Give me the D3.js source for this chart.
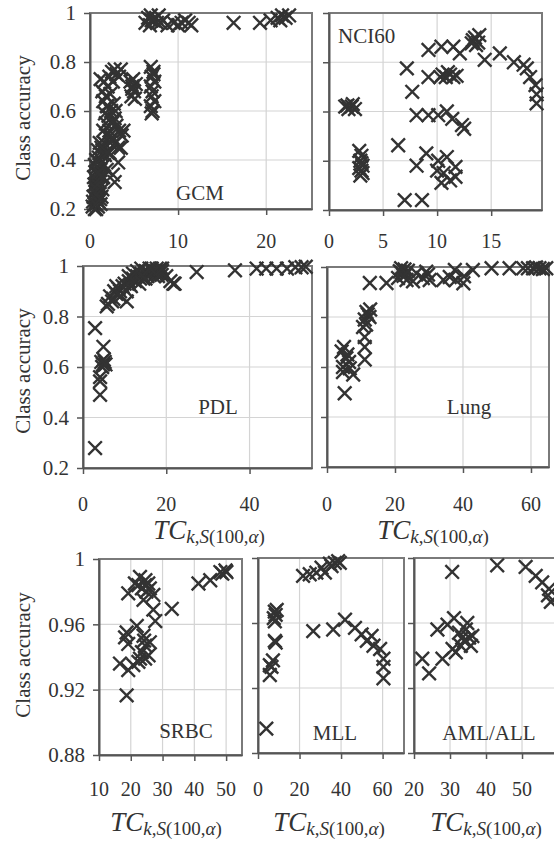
<!DOCTYPE html>
<html><head><meta charset="utf-8">
<script src="https://cdn.jsdelivr.net/npm/d3@7"></script>
<style>body{margin:0;background:#fff}svg{display:block}</style>
</head><body>
<svg id="c" width="554" height="844"></svg>
<script>
// ---------- data ----------
const gcmX = [0.3,0.5,0.7,0.9,1.2,0.4,0.6,0.8,1.0,1.3,0.5,0.7,0.9,1.1,1.4,0.6,0.8,1.0,1.2,1.5,0.7,1.0,1.3,1.6,1.9,2.2,
  0.35,0.55,0.75,0.95,1.15,0.45,0.65,0.85,1.05,1.25,0.55,0.75,0.95,1.15,1.35,0.9,1.1,1.4,1.7,
  2.8,3.2,3.5,3.8,2.6,2.9,
  1.3,1.6,1.9,2.2,2.5,2.8,1.5,1.8,2.1,2.4,2.7,3.0,3.3,3.6,3.2,2.3,2.0,1.7,2.0,2.3,2.6,2.9,
  1.2,1.4,1.6,1.5,1.8,2.0,2.2,2.5,2.8,3.0,3.3,2.3,1.9,2.6,3.5,2.7,
  4.6,4.8,5.0,4.7,5.2,4.9,5.1,4.8,
  6.9,7.2,7.0,7.3,6.9,7.1,7.0,7.3,6.9,7.1,7.0,7.2,
  6.3,6.6,6.9,7.2,7.5,7.8,8.0,7.0,6.8,7.6,8.3,8.8,9.5,10.0,10.4,10.8,11.2,11.5,16.3,19.3,20.5,21.3,21.8,22.2,22.6,21.6];
const gcmY = [0.21,0.22,0.2,0.21,0.22,0.25,0.27,0.24,0.26,0.25,0.3,0.32,0.29,0.31,0.28,0.35,0.37,0.34,0.36,0.33,0.4,0.41,0.39,0.38,0.36,0.43,
  0.23,0.2,0.28,0.23,0.29,0.33,0.22,0.3,0.38,0.33,0.38,0.26,0.35,0.24,0.42,0.44,0.47,0.44,0.42,
  0.31,0.39,0.45,0.52,0.34,0.47,
  0.45,0.47,0.5,0.52,0.55,0.57,0.52,0.55,0.58,0.6,0.56,0.54,0.52,0.5,0.45,0.47,0.43,0.59,0.62,0.5,0.49,0.6,
  0.73,0.68,0.72,0.64,0.66,0.7,0.74,0.76,0.77,0.75,0.74,0.67,0.62,0.72,0.77,0.63,
  0.72,0.7,0.68,0.66,0.71,0.73,0.65,0.69,
  0.78,0.76,0.74,0.72,0.7,0.68,0.66,0.64,0.62,0.6,0.59,0.75,
  0.96,0.98,0.99,0.97,0.98,0.99,0.96,0.97,0.95,0.96,0.97,0.95,0.96,0.95,0.96,0.97,0.96,0.95,0.96,0.96,0.97,0.98,0.99,0.98,0.99,0.97];

const nciX = [13.5,13.8,13.3,13.9,13.6,13.2,12.1,9.2,10.4,11.5,14.4,15.8,17.1,18.0,18.3,18.6,19.1,19.2,19.2,
  7.2,7.7,9.2,10.3,10.5,10.8,11.2,11.5,11.8,11.0,
  8.1,9.2,10.1,10.9,11.4,12.3,12.5,
  1.5,1.8,2.1,2.4,1.7,2.2,
  2.8,3.0,2.9,3.1,2.8,3.0,3.1,2.9,3.0,
  6.4,8.1,9.0,10.1,10.9,10.0,10.4,11.2,11.7,11.7,10.6,7.0,8.6];
const nciY = [0.9,0.88,0.89,0.91,0.87,0.877,0.836,0.85,0.863,0.863,0.81,0.836,0.8,0.79,0.775,0.74,0.707,0.67,0.633,
  0.775,0.68,0.74,0.74,0.75,0.74,0.75,0.74,0.745,0.76,
  0.585,0.585,0.585,0.6,0.57,0.545,0.53,
  0.62,0.61,0.62,0.61,0.625,0.63,
  0.44,0.42,0.4,0.38,0.37,0.36,0.35,0.34,0.39,
  0.463,0.38,0.43,0.4,0.415,0.36,0.31,0.32,0.375,0.335,0.35,0.24,0.24];

const pdlX = [2.9,2.9,4.9,4.4,4.8,5.2,4.6,5.0,5.4,4.1,4.1,4.1,
  5.7,7.3,10.5,8.9,11.3,13.7,15.3,17.7,18.9,21.7,
  6,6.5,7,7.5,8,8.5,9,9.5,10,10.5,11,11.5,12,12.5,13,13.5,14,14.5,15,15.5,16,16.5,17,17.5,18,18.5,19,20,21,22,8,12,14,
  11,13,15,16,17,18,19,
  27.3,36.5,41.7,44,46.5,49,51,52.5,53.5];
const pdlY = [0.279,0.754,0.68,0.62,0.61,0.62,0.6,0.63,0.61,0.543,0.49,0.56,
  0.84,0.87,0.86,0.9,0.925,0.95,0.978,0.99,0.965,0.93,
  0.85,0.88,0.86,0.9,0.89,0.91,0.88,0.92,0.93,0.9,0.94,0.92,0.95,0.94,0.96,0.93,0.97,0.95,0.98,0.96,0.97,0.99,0.96,0.98,0.97,0.99,0.98,0.96,0.94,0.93,0.92,0.97,0.99,
  0.96,0.98,0.95,0.99,0.98,0.96,0.99,
  0.976,0.983,0.99,0.99,0.99,0.99,0.995,0.995,0.997];

const lungX = [5.2,4.3,5.7,6.7,7.7,4.7,5.0,6.0,6.5,4.7,
  11.1,11.1,11.1,10.6,11.6,12.5,11.1,12.7,12.0,11.5,
  12.6,17.5,21.4,22.8,20.9,23.2,22.0,25.3,28.2,29.7,21.8,23.8,22.5,
  23.4,26.3,30.2,29.2,34.2,36.1,37.6,37.9,40.1,40.3,42.9,48.4,53.7,57.7,60.6,62.5,64.5,59.1,61.5,63.5];
const lungY = [0.495,0.662,0.635,0.595,0.57,0.6,0.68,0.65,0.62,0.58,
  0.63,0.68,0.72,0.76,0.82,0.8,0.79,0.83,0.81,0.77,
  0.936,0.936,0.983,0.99,0.956,0.97,0.977,0.943,0.956,0.97,0.995,0.985,0.965,
  0.948,0.975,0.948,0.981,0.948,0.96,0.988,0.948,0.935,0.963,0.988,0.995,0.995,0.995,0.995,0.995,0.995,0.995,0.998,0.992];

const srbcX = [18.7,16.6,20.8,19.2,18.2,18.7,21.9,19.2,
  24.0,24.2,24.5,23.5,25.6,24.5,26.0,22.9,22.4,
  22.9,19.2,22.4,24.5,26.0,27.1,24.0,27.1,27.7,24.9,21.3,24.6,23.5,25.5,
  32.9,41.3,45.0,48.2,49.8,50.1,48.8];
const srbcY = [0.9165,0.936,0.935,0.932,0.952,0.955,0.959,0.948,
  0.953,0.95,0.947,0.943,0.941,0.939,0.949,0.939,0.937,
  0.989,0.979,0.984,0.984,0.982,0.978,0.975,0.969,0.962,0.98,0.985,0.987,0.982,0.985,
  0.9695,0.985,0.987,0.992,0.993,0.992,0.991];

const mllX = [4.0,5.7,6.5,7.2,5.7,8.1,8.5,8.1,8.5,7.6,8.1,9.0,
  26.6,36.2,41.9,46.7,49.9,52.4,54.7,55.6,58.8,60.4,60.4,60.4,
  21.7,24.9,28.1,30.6,32.2,34.6,37.0,39.4,35.4,38.6];
const mllY = [0.895,0.928,0.933,0.937,0.934,0.949,0.948,0.967,0.965,0.963,0.961,0.968,
  0.955,0.956,0.962,0.957,0.953,0.949,0.952,0.946,0.944,0.938,0.933,0.926,
  0.989,0.99,0.991,0.994,0.991,0.9965,0.997,0.997,0.995,0.998];

const amlX = [30.6,43.1,51.0,53.8,55.6,57.5,58.0,57.2,
  22.3,24.2,27.9,26.5,29.3,31.1,
  32.5,34.4,35.3,33.9,33.0,31.6,35.8,34.8,36.2,30.7,33.4];
const amlY = [0.9914,0.9955,0.9945,0.989,0.985,0.981,0.973,0.977,
  0.938,0.929,0.938,0.956,0.959,0.963,
  0.954,0.956,0.951,0.949,0.946,0.942,0.946,0.96,0.952,0.944,0.951];

const yTicksTop = [0.2,0.4,0.6,0.8,1];
const yTicksBot = [0.88,0.92,0.96,1];
const panelNames = ["GCM","NCI60","PDL","Lung","SRBC","MLL","AML/ALL"];

// ---------- layout ----------
const svg = d3.select("#c");
const FONT = "'Liberation Serif','Times New Roman',serif";
const panels = [
  {name:panelNames[0], xs:gcmX, ys:gcmY, l:90, r:312, t:13, b:209, xd:[0,25.2], yd:[0.2,1], xt:[0,10,20], yt:yTicksTop, ylab:true, tickY:248, lab:{x:200,y:200,a:"middle"}},
  {name:panelNames[1], xs:nciX, ys:nciY, l:329, r:542, t:13, b:210, xd:[0,19.7], yd:[0.2,1], xt:[0,5,10,15], yt:yTicksTop, ylab:false, tickY:248, lab:{x:338,y:43,a:"start"}},
  {name:panelNames[2], xs:pdlX, ys:pdlY, l:83, r:312, t:266, b:468, xd:[0,55], yd:[0.2,1], xt:[0,20,40], yt:yTicksTop, ylab:true, tickY:511, lab:{x:218,y:414,a:"middle"}, title:{x:209,y:539}},
  {name:panelNames[3], xs:lungX, ys:lungY, l:327, r:549, t:267, b:467, xd:[0,65.3], yd:[0.2,1], xt:[0,20,40,60], yt:yTicksTop, ylab:false, tickY:511, lab:{x:469,y:414,a:"middle"}, title:{x:433,y:539}},
  {name:panelNames[4], xs:srbcX, ys:srbcY, l:99, r:242, t:559, b:755, xd:[10,55], yd:[0.88,1], xt:[10,20,30,40,50], yt:yTicksBot, ylab:true, tickY:796, lab:{x:186,y:738,a:"middle"}, title:{x:166,y:831}},
  {name:panelNames[5], xs:mllX, ys:mllY, l:258, r:404, t:558, b:753, xd:[0,70.3], yd:[0.88,1], xt:[0,20,40,60], yt:yTicksBot, ylab:false, tickY:796, lab:{x:335,y:740,a:"middle"}, title:{x:329,y:831}},
  {name:panelNames[6], xs:amlX, ys:amlY, l:414, r:580, t:558, b:753, xd:[20,66.1], yd:[0.88,1], xt:[20,30,40,50], yt:yTicksBot, ylab:false, tickY:796, lab:{x:489,y:740,a:"middle"}, title:{x:486,y:831}}
];

const fmtTop = d => d===1 ? "1" : d3.format(".1f")(d);
const fmtBot = d => d===1 ? "1" : d3.format(".2f")(d);

panels.forEach(p => {
  const x = d3.scaleLinear().domain(p.xd).range([p.l,p.r]);
  const y = d3.scaleLinear().domain(p.yd).range([p.b,p.t]);
  const g = svg.append("g");
  // grid
  g.selectAll(".vg").data(p.xt.filter(v=>v>p.xd[0])).enter().append("line")
    .attr("x1",d=>x(d)).attr("x2",d=>x(d)).attr("y1",p.t).attr("y2",p.b)
    .attr("stroke","#d4d4d4").attr("stroke-width",1.2);
  g.selectAll(".hg").data(p.yt.filter(v=>v>p.yd[0] && v<p.yd[1])).enter().append("line")
    .attr("x1",p.l).attr("x2",p.r).attr("y1",d=>y(d)).attr("y2",d=>y(d))
    .attr("stroke","#d4d4d4").attr("stroke-width",1.2);
  // frame
  g.append("rect").attr("x",p.l).attr("y",p.t).attr("width",p.r-p.l).attr("height",p.b-p.t)
    .attr("fill","none").attr("stroke","#7a7a7a").attr("stroke-width",2);
  // axes
  const ya = d3.axisLeft(y).tickValues(p.yt).tickSize(6).tickSizeOuter(0)
    .tickFormat(p.ylab ? (p.yd[0]<0.5 ? fmtTop : fmtBot) : "");
  const yg = g.append("g").attr("transform",`translate(${p.l},0)`).call(ya);
  yg.select(".domain").attr("stroke","#555").attr("stroke-width",2);
  yg.selectAll(".tick line").attr("stroke","#555").attr("stroke-width",1.5);
  yg.selectAll("text").attr("font-family",FONT).attr("font-size",21).attr("fill","#333").attr("x",-14);
  const xa = d3.axisBottom(x).tickValues(p.xt).tickSize(6).tickSizeOuter(0).tickFormat("");
  const xg = g.append("g").attr("transform",`translate(0,${p.b})`).call(xa);
  xg.select(".domain").attr("stroke","#555").attr("stroke-width",2);
  xg.selectAll(".tick line").attr("stroke","#555").attr("stroke-width",1.5);
  g.selectAll(".xl").data(p.xt).enter().append("text")
    .attr("x",d=>x(d)).attr("y",p.tickY).attr("text-anchor","middle")
    .attr("font-family",FONT).attr("font-size",20).attr("fill","#333").text(d=>d);
  // panel label
  g.append("text").attr("x",p.lab.x).attr("y",p.lab.y).attr("text-anchor",p.lab.a)
    .attr("font-family",FONT).attr("font-size",21).attr("fill","#333").text(p.name);
  // markers
  const pts = p.xs.map((v,i)=>[v,p.ys[i]]);
  const s = 6.8;
  g.selectAll(".m").data(pts).enter().append("path")
    .attr("d",d=>{const cx=x(d[0]), cy=y(d[1]);
      return `M${cx-s},${cy-s}L${cx+s},${cy+s}M${cx-s},${cy+s}L${cx+s},${cy-s}`;})
    .attr("stroke","#333").attr("stroke-width",2.4).attr("fill","none");
  // axis title
  if (p.title) {
    const t = g.append("text").attr("x",p.title.x).attr("y",p.title.y).attr("text-anchor","middle")
      .attr("font-family",FONT).attr("fill","#333");
    t.append("tspan").attr("font-style","italic").attr("font-size",27).text("TC");
    t.append("tspan").attr("font-size",19).attr("font-style","italic").attr("dy",4).text("k");
    t.append("tspan").attr("font-size",19).text(",");
    t.append("tspan").attr("font-size",19).attr("font-style","italic").text("S");
    t.append("tspan").attr("font-size",19).text("(100,");
    t.append("tspan").attr("font-size",19).attr("font-style","italic").text("α");
    t.append("tspan").attr("font-size",19).text(")");
  }
});

// y axis titles
[118,371,655].forEach(cy => {
  svg.append("text").attr("transform",`translate(30,${cy}) rotate(-90)`).attr("text-anchor","middle")
    .attr("font-family",FONT).attr("font-size",21).attr("fill","#333").text("Class accuracy");
});
</script>
</body></html>
